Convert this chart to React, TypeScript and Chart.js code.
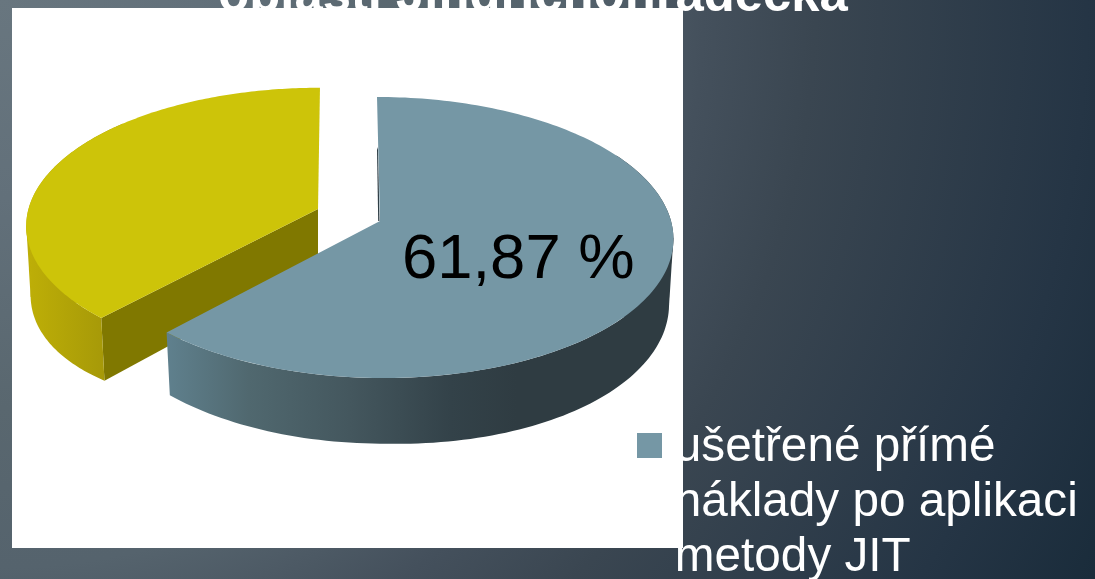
import React, { useEffect, useRef } from "react";
import { Chart, registerables } from "chart.js";

Chart.register(...registerables);

const categories = [["ušetřené přímé", "náklady po aplikaci", "metody JIT"], ""];
const shares = [61.87, 38.13];
const titleText = "oblasti Jindřichohradecka";

const FONT = "'Liberation Sans', Arial, sans-serif";
const K = 0.1174;
const DEG = Math.PI / 180;
// per-slice projection of the pie plane (perspective view)
const views = [
  { cx: 380, ay: 221, a: 291, b: 138.6, shear: 3.35, top: "#7597A5", hull: [6.7, 8, 40], wallStops: [[0, "#5F808D"], [0.16, "#50686F"], [0.36, "#44575E"], [0.56, "#334249"], [0.69, "#2F3C42"], [1, "#2F3C42"]] },
  { cx: 318, ay: 209, a: 289.5, b: 135.5, shear: -2.2, top: "#CDC409", hull: [173.3, 172, 140], wallStops: [[0, "#BDAE07"], [1, "#A69908"]] },
];

type V = (typeof views)[number];

function pt(v: V, angle: number, down = false) {
  // angle in Chart.js arc convention: -PI/2 is the top
  const u = Math.cos(angle);
  const w0 = Math.sin(angle);
  const w = 1 - K * w0;
  const vw = w0 / w;
  if (!down) return { x: v.cx + (v.a * u) / w + v.shear * vw, y: v.ay + v.b * vw };
  // side walls look slightly squarer than a plain offset of the top rim
  const bump = v === views[0] ? 8 * Math.max(0, u) : 12 * Math.max(0, Math.abs(u) - 0.68) / 0.32;
  const d = 56 + 8.5 * vw + bump;
  return { x: v.cx + (0.985 * v.a * u) / w + v.shear * vw, y: v.ay + v.b * vw + d };
}

function topPath(ctx: CanvasRenderingContext2D, v: V, s: number, e: number) {
  ctx.beginPath();
  ctx.moveTo(v.cx, v.ay);
  for (let i = 0; i <= 180; i++) {
    const p = pt(v, s + ((e - s) * i) / 180);
    ctx.lineTo(p.x, p.y);
  }
  ctx.closePath();
}

function wallPath(ctx: CanvasRenderingContext2D, v: V, s: number, e: number) {
  ctx.beginPath();
  for (let i = 0; i <= 120; i++) {
    const p = pt(v, s + ((e - s) * i) / 120);
    i ? ctx.lineTo(p.x, p.y) : ctx.moveTo(p.x, p.y);
  }
  for (let i = 120; i >= 0; i--) {
    const p = pt(v, s + ((e - s) * i) / 120, true);
    ctx.lineTo(p.x, p.y);
  }
  ctx.closePath();
}

const pie3d = {
  id: "pie3d",
  afterLayout(chart: any) {
    const t = chart.titleBlock;
    t.left = 0; t.right = 1066; t.top = -33; t.bottom = 27;
    const l = chart.legend;
    l.left = 627; l.right = 1095; l.top = 414.5; l.bottom = 579;
  },
  beforeDatasetsDraw(chart: any) {
    const ctx: CanvasRenderingContext2D = chart.ctx;
    ctx.save();
    // white chart plate, on top of the slide text
    ctx.fillStyle = "#FFFFFF";
    ctx.fillRect(12, 8, 671, 540);

    const arcs = chart.getDatasetMeta(0).data;
    // slice 2 (yellow) behind, slice 1 (blue) in front
    for (const idx of [1, 0]) {
      const arc = arcs[idx];
      const v = views[idx];
      const { startAngle: s, endAngle: e } = arc.getProps(["startAngle", "endAngle"]);
      if (idx === 1) {
        // inner cut face
        const a = pt(v, s), b = pt(v, s, true);
        ctx.fillStyle = "#807800";
        ctx.beginPath();
        ctx.moveTo(v.cx, v.ay);
        ctx.lineTo(a.x, a.y);
        ctx.lineTo(b.x, b.y);
        ctx.lineTo(v.cx, v.ay + 56);
        ctx.closePath();
        ctx.fill();
      }
      const wallStart = idx === 0 ? s + Math.PI / 3 : s;
      const wallEnd = idx === 0 ? e : s + Math.PI / 2;
      const g = ctx.createLinearGradient(idx === 0 ? 168 : 30, 0, idx === 0 ? 673 : 105, 0);
      v.wallStops.forEach(([o, c]) => g.addColorStop(o as number, c as string));
      wallPath(ctx, v, wallStart, wallEnd);
      ctx.fillStyle = g;
      ctx.fill();
      // silhouette between the top rim's extreme and the bottom rim
      const h0 = pt(v, v.hull[0] * DEG), h1 = pt(v, v.hull[1] * DEG, true), h2 = pt(v, v.hull[2] * DEG);
      ctx.beginPath();
      ctx.moveTo(h0.x, h0.y);
      ctx.lineTo(h1.x, h1.y);
      ctx.lineTo(h2.x, h2.y);
      ctx.closePath();
      ctx.fill();
      if (idx === 0) {
        // thin visible edge at the slice start
        ctx.fillStyle = "#2F3E46";
        ctx.beginPath();
        ctx.moveTo(379.5, 221);
        ctx.lineTo(378, 147);
        ctx.lineTo(377, 150);
        ctx.lineTo(378.2, 221);
        ctx.closePath();
        ctx.fill();
      }
      topPath(ctx, v, s, e);
      ctx.fillStyle = v.top;
      ctx.fill();
    }

    // value label
    ctx.fillStyle = "#000000";
    ctx.font = `63.4px ${FONT}`;
    ctx.textAlign = "left";
    ctx.textBaseline = "alphabetic";
    ctx.fillText(shares[0].toFixed(2).replace(".", ",") + " %", 402, 278);

    // legend swatch sits above the plate
    ctx.fillStyle = views[0].top;
    ctx.fillRect(637, 433, 25, 25);
    ctx.restore();
    return false;
  },
};

export default function App() {
  const ref = useRef<HTMLCanvasElement>(null);
  useEffect(() => {
    const chart = new Chart(ref.current!, {
      type: "pie",
      data: {
        labels: categories as any,
        datasets: [{ data: shares, backgroundColor: [views[0].top, views[1].top], borderWidth: 0 }],
      },
      options: {
        responsive: false,
        animation: false,
        plugins: {
          tooltip: { enabled: false },
          title: {
            display: true,
            text: titleText,
            color: "#FFFFFF",
            padding: 0,
            font: { family: FONT, size: 50.8, weight: "bold" },
          },
          legend: {
            display: true,
            position: "top",
            align: "start",
            labels: {
              color: "#FFFFFF",
              boxWidth: 14,
              boxHeight: 11,
              padding: 10,
              font: { family: FONT, size: 47.7, lineHeight: 1.153 },
              filter: (item: any) => item.index === 0,
            },
          },
        },
      },
      plugins: [pie3d as any],
    });
    return () => chart.destroy();
  }, []);
  return (
    <div
      style={{
        position: "fixed",
        inset: 0,
        overflow: "hidden",
        background:
          "radial-gradient(circle 1235px at 0 0, #68767F 0%, #62707A 16%, #59676F 33%, #55636D 46%, #44505C 57%, #3A4651 66%, #253545 88%, #1A2C3B 100%)",
      }}
    >
      <canvas ref={ref} width={1095} height={579} style={{ display: "block" }} />
    </div>
  );
}
